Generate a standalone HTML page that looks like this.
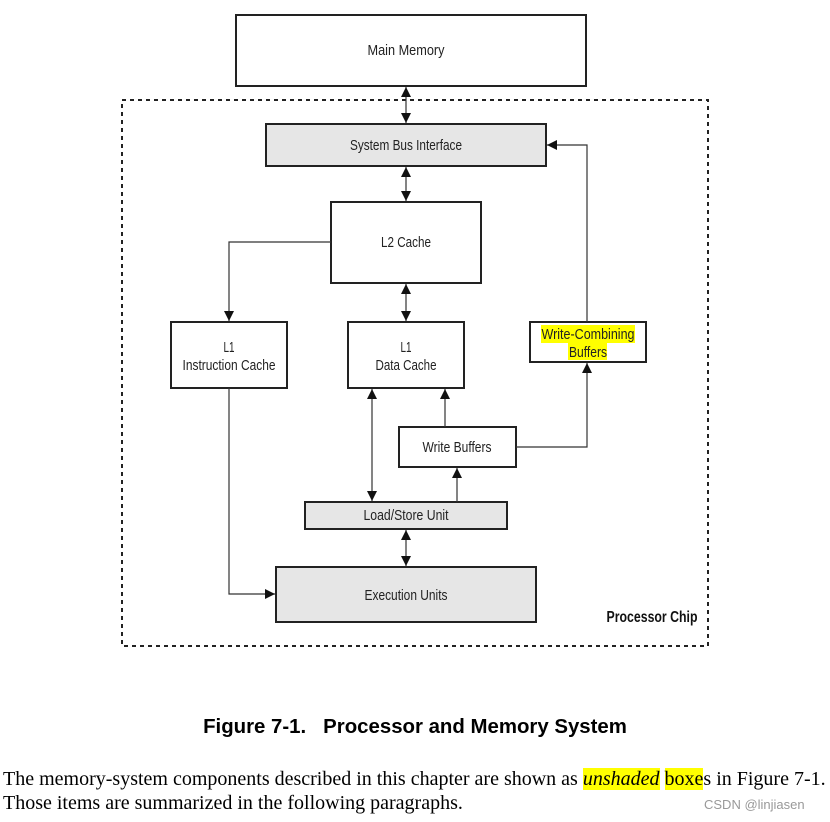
<!DOCTYPE html>
<html><head><meta charset="utf-8"><style>
html,body{margin:0;padding:0;background:#fff;width:830px;height:822px;overflow:hidden;position:relative}
svg{position:absolute;left:0;top:0}
.t{font-family:"Liberation Sans",sans-serif;font-size:15px;fill:#222;text-anchor:middle}
.cap{position:absolute;left:0;width:830px;top:716px;text-align:center;font-family:"Liberation Sans",sans-serif;font-weight:bold;font-size:20.4px;color:#000;white-space:pre}
.p{position:absolute;left:3px;font-family:"Liberation Serif",serif;font-size:20px;color:#000;white-space:nowrap}
.hl{background:#ffff00}
.csdn{position:absolute;left:704px;top:797px;font-family:"Liberation Sans",sans-serif;font-size:13px;color:#999}
</style></head><body>
<svg width="830" height="822" viewBox="0 0 830 822">
<defs>
<marker id="a" viewBox="0 0 10 10" refX="10" refY="5" markerWidth="10" markerHeight="10" markerUnits="userSpaceOnUse" orient="auto-start-reverse"><path d="M0,0 L10,5 L0,10 z" fill="#111"/></marker>
</defs>
<rect x="122" y="100" width="586" height="546" fill="none" stroke="#222" stroke-width="2" stroke-dasharray="4,4"/>
<g stroke="#222" stroke-width="2">
<rect x="236" y="15" width="350" height="71" fill="#fff"/>
<rect x="266" y="124" width="280" height="42" fill="#e6e6e6"/>
<rect x="331" y="202" width="150" height="81" fill="#fff"/>
<rect x="171" y="322" width="116" height="66" fill="#fff"/>
<rect x="348" y="322" width="116" height="66" fill="#fff"/>
<rect x="530" y="322" width="116" height="40" fill="#fff"/>
<rect x="399" y="427" width="117" height="40" fill="#fff"/>
<rect x="305" y="502" width="202" height="27" fill="#e6e6e6"/>
<rect x="276" y="567" width="260" height="55" fill="#e6e6e6"/>
</g>
<g stroke="#333" stroke-width="1.2" fill="none">
<line x1="406" y1="87" x2="406" y2="123" marker-start="url(#a)" marker-end="url(#a)"/>
<line x1="406" y1="167" x2="406" y2="201" marker-start="url(#a)" marker-end="url(#a)"/>
<line x1="406" y1="284" x2="406" y2="321" marker-start="url(#a)" marker-end="url(#a)"/>
<polyline points="331,242 229,242 229,321" marker-end="url(#a)"/>
<polyline points="229,388 229,594 275,594" marker-end="url(#a)"/>
<polyline points="587,322 587,145 547,145" marker-end="url(#a)"/>
<polyline points="516,447 587,447 587,363" marker-end="url(#a)"/>
<line x1="445" y1="427" x2="445" y2="389" marker-end="url(#a)"/>
<line x1="372" y1="389" x2="372" y2="501" marker-start="url(#a)" marker-end="url(#a)"/>
<line x1="457" y1="502" x2="457" y2="468" marker-end="url(#a)"/>
<line x1="406" y1="530" x2="406" y2="566" marker-start="url(#a)" marker-end="url(#a)"/>
</g>
<rect x="541" y="325" width="94" height="18" fill="#ffff00"/>
<rect x="568" y="343" width="39" height="17" fill="#ffff00"/>
<text class="t" x="406" y="55" textLength="77" lengthAdjust="spacingAndGlyphs">Main Memory</text>
<text class="t" x="406" y="150" textLength="112" lengthAdjust="spacingAndGlyphs">System Bus Interface</text>
<text class="t" x="406" y="247" textLength="50" lengthAdjust="spacingAndGlyphs">L2 Cache</text>
<text class="t" x="229" y="352" textLength="11" lengthAdjust="spacingAndGlyphs">L1</text>
<text class="t" x="229" y="370" textLength="93" lengthAdjust="spacingAndGlyphs">Instruction Cache</text>
<text class="t" x="406" y="352" textLength="11" lengthAdjust="spacingAndGlyphs">L1</text>
<text class="t" x="406" y="370" textLength="61" lengthAdjust="spacingAndGlyphs">Data Cache</text>
<text class="t" x="588" y="339" textLength="93" lengthAdjust="spacingAndGlyphs">Write-Combining</text>
<text class="t" x="588" y="357" textLength="38" lengthAdjust="spacingAndGlyphs">Buffers</text>
<text class="t" x="457" y="452" textLength="69" lengthAdjust="spacingAndGlyphs">Write Buffers</text>
<text class="t" x="406" y="520" textLength="85" lengthAdjust="spacingAndGlyphs">Load/Store Unit</text>
<text class="t" x="406" y="600" textLength="83" lengthAdjust="spacingAndGlyphs">Execution Units</text>
<text class="t" x="652" y="622" textLength="91" lengthAdjust="spacingAndGlyphs" style="font-size:16px;fill:#111;font-weight:600">Processor Chip</text>
</svg>
<div class="cap">Figure 7-1.   Processor and Memory System</div>
<div class="p" style="top:768px">The memory-system components described in this chapter are shown as <i class="hl">unshaded</i> <span class="hl">boxe</span>s in Figure 7-1.</div>
<div class="p" style="top:792px">Those items are summarized in the following paragraphs.</div>
<div class="csdn">CSDN @linjiasen</div>
</body></html>
